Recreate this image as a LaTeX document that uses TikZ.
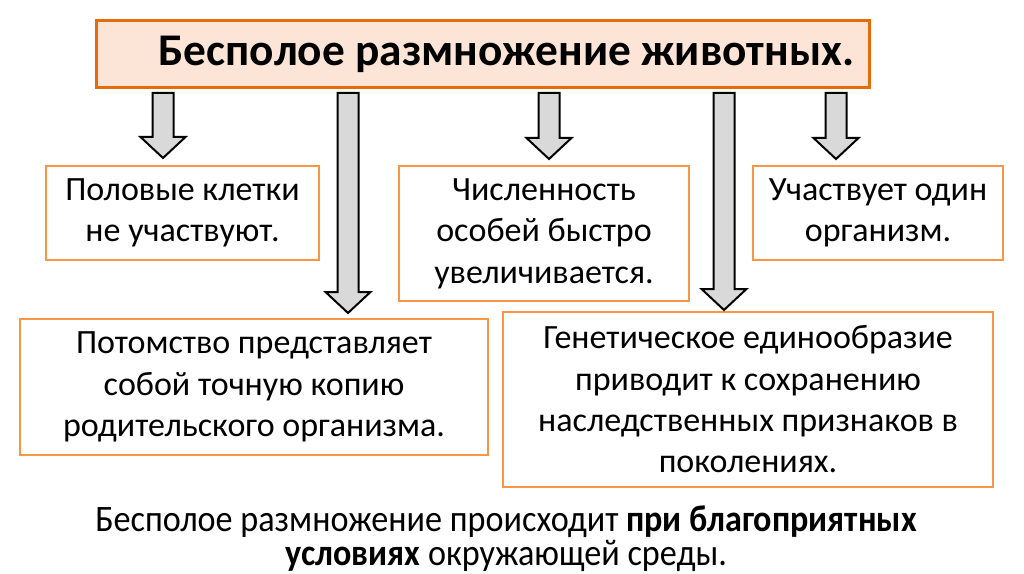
\documentclass[tikz,border=0pt]{standalone}
\usepackage{fontspec}
\setmainfont{Carlito}
\newfontfamily\narrowfont[FakeStretch=0.915]{Carlito}
\usetikzlibrary{calc}

\definecolor{titlefill}{HTML}{FCE4D6}
\definecolor{titleline}{HTML}{E46C0A}
\definecolor{boxline}{HTML}{F79646}
\definecolor{arrgray}{HTML}{D9D9D9}

% block arrow between two named coordinates (top, tip)
\newcommand{\blockarrow}[2]{%
  \draw[blockarr] ($(#1)+(-10.5,0)$) -- ($(#1)+(10.5,0)$) -- ($(#2)+(10.5,-21)$)
    -- ($(#2)+(22.5,-21)$) -- (#2) -- ($(#2)+(-22.5,-21)$) -- ($(#2)+(-10.5,-21)$) -- cycle;}

\begin{document}
\begin{tikzpicture}[x=0.75pt,y=-0.75pt,
  box/.style={draw=boxline,line width=1pt,align=center,inner sep=0pt,
    font=\fontsize{25.5}{31}\selectfont},
  titlebox/.style={draw=titleline,fill=titlefill,line width=2.25pt,inner sep=0pt,
    font=\fontsize{34}{38}\selectfont\bfseries},
  blockarr/.style={draw=black,fill=arrgray,line width=1.5pt,line join=miter}]
\useasboundingbox (0,0) rectangle (1024,574);

\node[titlebox,minimum width=579.75pt,minimum height=50.25pt] (title) at (482.5,54.5) {\hspace*{36pt}Бесполое размножение животных.};

\node[box,minimum width=204.75pt,minimum height=70.5pt] (cells) at (182.5,213) {Половые клетки\\не участвуют.};
\node[box,minimum width=217.5pt,minimum height=101.25pt] (number) at (544,233.5) {Численность\\особей быстро\\увеличивается.};
\node[box,minimum width=187.5pt,minimum height=70.5pt] (single) at (878,213) {Участвует один\\организм.};
\node[box,minimum width=351pt,minimum height=102pt] (copy) at (254,387) {Потомство представляет\\собой точную копию\\родительского организма.};
\node[box,minimum width=367.5pt,minimum height=131.25pt] (genes) at (748,399.5) {Генетическое единообразие\\приводит к сохранению\\наследственных признаков в\\поколениях.};

\node[align=center,inner sep=0pt,font=\fontsize{28}{25.5}\selectfont\narrowfont] (note) at (506,539)
  {Бесполое размножение происходит \textbf{при благоприятных}\\\textbf{условиях} окружающей среды.};

% arrows from the title
\coordinate (a1) at (163,93);  \coordinate (a1e) at (163,158);
\coordinate (a2) at (348,93);  \coordinate (a2e) at (348,313);
\coordinate (a3) at (549,93);  \coordinate (a3e) at (549,159);
\coordinate (a4) at (724,93);  \coordinate (a4e) at (724,310);
\coordinate (a5) at (836,93);  \coordinate (a5e) at (836,159);

\blockarrow{a1}{a1e}
\blockarrow{a2}{a2e}
\blockarrow{a3}{a3e}
\blockarrow{a4}{a4e}
\blockarrow{a5}{a5e}
\end{tikzpicture}
\end{document}
